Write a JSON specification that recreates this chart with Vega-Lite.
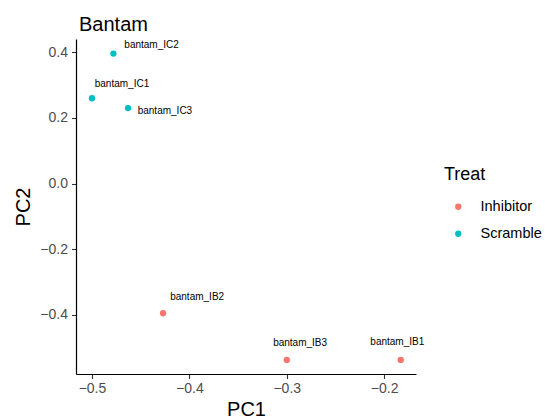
{
  "$schema": "https://vega.github.io/schema/vega-lite/v6.json",
  "width": 340,
  "height": 335,
  "autosize": "none",
  "padding": {"left": 76, "top": 39, "right": 129, "bottom": 46},
  "background": "white",
  "title": {"text": "Bantam", "anchor": "start", "frame": "group", "font": "Liberation Sans", "fontSize": 20, "fontWeight": "normal", "color": "black", "baseline": "alphabetic", "offset": 10, "dy": 22, "dx": 3},
  "data": {"values": [
    {"sample": "bantam_IC2", "Treat": "Scramble", "PC1": -0.478, "PC2": 0.396, "label_x": -0.4388, "label_y": 0.4222},
    {"sample": "bantam_IC1", "Treat": "Scramble", "PC1": -0.500, "PC2": 0.260, "label_x": -0.4692, "label_y": 0.3026},
    {"sample": "bantam_IC3", "Treat": "Scramble", "PC1": -0.463, "PC2": 0.230, "label_x": -0.4251, "label_y": 0.2213},
    {"sample": "bantam_IB2", "Treat": "Inhibitor", "PC1": -0.427, "PC2": -0.395, "label_x": -0.3920, "label_y": -0.344},
    {"sample": "bantam_IB3", "Treat": "Inhibitor", "PC1": -0.300, "PC2": -0.537, "label_x": -0.2863, "label_y": -0.4858},
    {"sample": "bantam_IB1", "Treat": "Inhibitor", "PC1": -0.183, "PC2": -0.537, "label_x": -0.1865, "label_y": -0.481}
  ]},
  "config": {
    "view": {"stroke": null},
    "font": "Liberation Sans",
    "axis": {
      "grid": false,
      "domainColor": "black",
      "domainWidth": 1.2,
      "tickColor": "#333333",
      "tickSize": 4.5,
      "tickWidth": 1.1,
      "labelFont": "Liberation Sans",
      "labelFontSize": 14,
      "labelColor": "#4D4D4D",
      "labelPadding": 3,
      "titleFont": "Liberation Sans",
      "titleFontSize": 20,
      "titleFontWeight": "normal",
      "titleColor": "black"
    }
  },
  "layer": [
    {
      "mark": {"type": "circle", "size": 40, "opacity": 1},
      "encoding": {
        "x": {"field": "PC1", "type": "quantitative", "scale": {"domain": [-0.5164, -0.1673], "nice": false, "zero": false},
              "axis": {"values": [-0.5, -0.4, -0.3, -0.2], "format": ".1f", "title": "PC1", "titlePadding": 4}},
        "y": {"field": "PC2", "type": "quantitative", "scale": {"domain": [-0.580, 0.4405], "nice": false, "zero": false},
              "axis": {"values": [-0.4, -0.2, 0, 0.2, 0.4], "format": ".1f", "title": "PC2", "titlePadding": 6, "labelPadding": 4}},
        "color": {"field": "Treat", "type": "nominal",
                  "scale": {"domain": ["Inhibitor", "Scramble"], "range": ["#F8766D", "#00BFC4"]},
                  "legend": {"orient": "none", "legendX": 368, "legendY": 127, "title": "Treat",
                             "titleFont": "Liberation Sans", "titleFontSize": 18, "titleFontWeight": "normal", "titleColor": "black",
                             "titlePadding": 15.5, "labelFont": "Liberation Sans", "labelFontSize": 14.5, "labelColor": "black",
                             "symbolType": "circle", "symbolSize": 40, "symbolStrokeWidth": 0, "symbolOpacity": 1,
                             "labelOffset": 15, "rowPadding": 12, "symbolOffset": 7}}
      }
    },
    {
      "mark": {"type": "text", "font": "Liberation Sans", "fontSize": 10, "color": "black", "align": "center", "baseline": "middle"},
      "encoding": {
        "x": {"field": "label_x", "type": "quantitative"},
        "y": {"field": "label_y", "type": "quantitative"},
        "text": {"field": "sample", "type": "nominal"}
      }
    }
  ]
}
